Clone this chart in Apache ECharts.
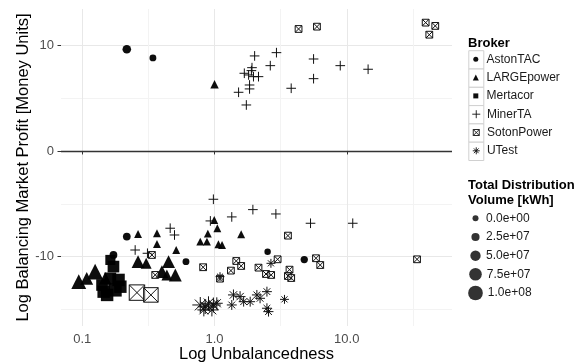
<!DOCTYPE html>
<html><head><meta charset="utf-8">
<script src="https://cdn.jsdelivr.net/npm/echarts@6/dist/echarts.min.js"></script>
<style>html,body{margin:0;padding:0;background:#fff}#c{width:585px;height:364px}</style>
</head><body><div id="c"></div>
<script>
// ---- axis ticks ----
const xTicks = [0.1, 1, 10];
const xMinor = [0.316, 3.16, 31.6];
const yTicks = [-10, 0, 10];
const yMinor = [-15, -5, 5];

// ---- brokers ----
const brokers = ['AstonTAC', 'LARGEpower', 'Mertacor', 'MinerTA', 'SotonPower', 'UTest'];

// unbalancedness, log profit, total distribution volume (kWh)
const astonX = [0.217, 0.342, 0.217, 0.172, 0.608, 2.52, 4.77];
const astonY = [9.62, 8.80, -8.1, -9.84, -10.47, -9.53, -10.28];
const astonV = [3e7, 1e7, 2e7, 2e7, 1e7, 5e6, 1.5e7];

const largeX = [1.0, 0.995, 1.05, 0.89, 0.78, 0.876, 1.07, 1.14, 1.59, 0.264, 0.367, 0.367, 0.513, 0.264, 0.304, 0.449, 0.40, 0.436, 0.505, 0.094, 0.108, 0.125, 0.149];
const largeY = [6.31, -6.53, -7.31, -7.82, -8.58, -8.58, -8.83, -8.89, -7.88, -7.85, -7.79, -8.80, -9.37, -10.47, -10.63, -10.47, -11.42, -11.73, -11.73, -12.36, -12.05, -11.42, -12.05];
const largeV = [1.5e7, 1e7, 1e7, 1e7, 1e7, 1e7, 1e7, 1e7, 1e7, 1e7, 1e7, 1e7, 1e7, 6e7, 4e7, 6e7, 6e7, 4e7, 6e7, 8e7, 6e7, 9e7, 6e7];

const mertX = [0.163, 0.172, 0.163, 0.145, 0.177, 0.194, 0.188, 0.141, 0.154];
const mertY = [-10.31, -10.94, -12.05, -13.31, -13.15, -12.84, -12.2, -12.68, -13.62];
const mertV = [6e7, 8e7, 8e7, 9e7, 1e8, 9e7, 9e7, 8e7, 9e7];

const minerX = [2.01, 2.94, 2.64, 1.92, 1.68, 1.81, 1.97, 2.15, 1.84, 1.84, 1.52, 1.74, 3.80, 5.61, 5.61, 8.93, 14.5, 1.9,
                0.98, 1.95, 2.91, 1.35, 5.32, 0.93, 11.1, 0.462, 0.498, 0.251, 0.311];
const minerY = [8.99, 9.30, 8.07, 7.88, 7.35, 7.19, 7.03, 7.03, 6.24, 5.87, 5.55, 4.35, 5.93, 8.70, 6.84, 8.07, 7.73, 7.6,
                -4.57, -5.55, -5.96, -6.24, -6.84, -6.62, -6.84, -7.31, -7.95, -9.37, -9.68];
const minerV = [5e6, 5e6, 5e6, 5e6, 5e6, 5e6, 5e6, 5e6, 5e6, 5e6, 5e6, 5e6, 5e6, 5e6, 5e6, 5e6, 5e6, 5e6,
                5e6, 5e6, 5e6, 5e6, 5e6, 5e6, 5e6, 5e6, 5e6, 5e6, 5e6];

const sotonX = [4.32, 5.95, 39.5, 46.7, 42.1, 3.59, 1.46, 1.59, 1.33, 0.82, 1.10, 2.15, 3.0, 2.45, 2.68, 3.69, 3.59, 3.80, 5.85, 6.30, 34.0, 0.336, 0.356, 0.259, 0.330];
const sotonY = [11.54, 11.76, 12.14, 11.83, 11.0, -8.01, -10.41, -10.88, -11.32, -11.0, -12.08, -11.04, -10.25, -11.64, -11.73, -11.23, -11.83, -12.02, -10.15, -10.79, -10.25, -9.84, -11.73, -13.4, -13.62];
const sotonV = [5e6, 5e6, 5e6, 5e6, 5e6, 5e6, 5e6, 5e6, 5e6, 5e6, 5e6, 5e6, 5e6, 5e6, 5e6, 5e6, 5e6, 5e6, 5e6, 5e6, 5e6, 5e6, 5e6, 1e8, 9e7];

const utestX = [0.78, 0.85, 0.90, 0.98, 0.955, 1.04, 0.83, 1.39, 1.56, 1.35, 1.66, 1.86, 2.09, 2.21, 2.49, 2.49, 2.56, 3.38, 2.67, 1.10];
const utestY = [-14.57, -14.73, -14.41, -14.57, -15.04, -14.41, -15.04, -13.62, -13.78, -14.57, -14.26, -14.26, -13.62, -13.94, -13.31, -14.88, -15.2, -14.04, -10.63, -11.89];
const utestV = [9e7, 8e7, 7e7, 8e7, 6e7, 5e7, 6e7, 4e7, 4e7, 3e7, 3e7, 3e7, 3e7, 3e7, 3e7, 3e7, 3e7, 2e7, 2e7, 2e7];

// size legend
const sizeBreaks = [0, 2.5e7, 5e7, 7.5e7, 1e8];
const sizeLabels = ['0.0e+00', '2.5e+07', '5.0e+07', '7.5e+07', '1.0e+08'];

// ---- build ----
const FONT = 'Liberation Sans, Arial, Helvetica, sans-serif';
function diam(v) { return 6 + 8.7 * v / 1e8; }
const shapes = {
  AstonTAC: {symbol: 'circle', f: 1.0, fill: '#000', stroke: null},
  LARGEpower: {symbol: 'triangle', f: 1.15, fill: '#000', stroke: null},
  Mertacor: {symbol: 'rect', f: 0.9, fill: '#000', stroke: null},
  MinerTA: {symbol: 'path://M5,0L5,10M0,5L10,5', f: 1.5, fill: 'rgba(0,0,0,0)', stroke: '#111'},
  SotonPower: {symbol: 'path://M0,0L10,0L10,10L0,10ZM0,0L10,10M10,0L0,10', f: 1.05, fill: 'rgba(255,255,255,0.3)', stroke: '#111'},
  UTest: {symbol: 'path://M5,0L5,10M0,5L10,5M1.6,1.6L8.4,8.4M8.4,1.6L1.6,8.4', f: 1.15, fill: 'rgba(0,0,0,0)', stroke: '#111'}
};
const legendIcon = {
  AstonTAC: {w: 5}, LARGEpower: {w: 6}, Mertacor: {w: 5}, MinerTA: {w: 8}, SotonPower: {w: 6}, UTest: {w: 7}
};
const dataSets = {
  AstonTAC: [astonX, astonY, astonV],
  LARGEpower: [largeX, largeY, largeV],
  Mertacor: [mertX, mertY, mertV],
  MinerTA: [minerX, minerY, minerV],
  SotonPower: [sotonX, sotonY, sotonV],
  UTest: [utestX, utestY, utestV]
};

const series = brokers.map((b, bi) => {
  const [xs, ys, vs] = dataSets[b];
  const sh = shapes[b];
  const s = {
    type: 'scatter', name: b, xAxisIndex: 0, yAxisIndex: 0,
    data: xs.map((x, i) => [x, ys[i], vs[i]]),
    symbol: sh.symbol,
    symbolSize: (val) => diam(val[2]) * sh.f,
    itemStyle: sh.stroke ? {color: sh.fill, borderColor: sh.stroke, borderWidth: 1, opacity: 1}
                         : {color: sh.fill, opacity: 0.95},
    emphasis: {disabled: true},
    z: 3
  };
  if (bi === 0) {
    s.markLine = {
      silent: true, symbol: 'none', label: {show: false},
      lineStyle: {color: '#333', width: 1.3, type: 'solid'},
      data: [{yAxis: 0}]
    };
  }
  return s;
});
sizeLabels.forEach((lab) => {
  series.push({type: 'scatter', name: lab, data: [], symbol: 'circle', itemStyle: {color: '#000'}});
});

const TXT = {fontSize: 12, color: '#1a1a1a', lineHeight: 18.3, fontFamily: FONT};
const legends = [];
// one legend per broker key so every icon can sit centred in its key box
brokers.forEach((b, i) => {
  const w = legendIcon[b].w;
  const cy = 59.3 + 18.3 * i;
  legends.push({
    data: [{name: b, itemStyle: shapes[b].stroke ? {borderWidth: 0.9} : {}}],
    orient: 'vertical', left: 475.8 - w / 2, top: cy - 9.15, padding: 0,
    itemWidth: w, itemHeight: w,
    textStyle: Object.assign({}, TXT, {padding: [0, 0, 0, 10.2 - w / 2 - 5 + 0.5]}),
    selectedMode: false
  });
});
const sizeCenters = [218.3, 237, 255.7, 274.3, 293];
sizeBreaks.forEach((v, i) => {
  const d = diam(v);
  legends.push({
    data: [sizeLabels[i]], orient: 'vertical', left: 475.5 - d / 2, top: sizeCenters[i] - 9.15, padding: 0,
    itemWidth: d, itemHeight: d, icon: 'circle',
    textStyle: Object.assign({}, TXT, {padding: [0, 0, 0, Math.max(0, 5.5 - d / 2)]}),
    selectedMode: false
  });
});

const boxes = brokers.map((b, i) => ({
  type: 'rect', left: 468.3, top: 50.2 + 18.3 * i,
  shape: {width: 15, height: 18.3},
  style: {fill: '#fff', stroke: '#d0d0d0', lineWidth: 1},
  z: 0, silent: true
}));

const option = {
  animation: false,
  backgroundColor: '#fff',
  textStyle: {fontFamily: FONT},
  title: [
    {text: 'Broker', left: 468, top: 35, padding: 0,
     textStyle: {fontSize: 13, fontWeight: 'bold', color: '#000', lineHeight: 16, fontFamily: FONT}},
    {text: 'Total Distribution\nVolume [kWh]', left: 468, top: 177.5, padding: 0,
     textStyle: {fontSize: 13, fontWeight: 'bold', color: '#000', lineHeight: 15, fontFamily: FONT}}
  ],
  legend: legends,
  graphic: boxes,
  grid: {left: 61, right: 133, top: 9, bottom: 38, containLabel: false, outerBoundsMode: 'none'},
  xAxis: [{
    type: 'log', logBase: 10, min: 0.069, max: 62.5,
    axisLine: {show: false},
    axisTick: {show: true, customValues: xTicks, length: 3.5, lineStyle: {color: '#333'}},
    axisLabel: {customValues: xTicks, formatter: (v) => Number(v).toFixed(1), fontSize: 13, color: '#4d4d4d', margin: 7, fontFamily: FONT},
    splitLine: {show: true, lineStyle: {color: '#e8e8e8', width: 1}},
    minorTick: {show: false}, minorSplitLine: {show: false},
    name: 'Log Unbalancedness', nameLocation: 'middle', nameGap: 19.5, nameMoveOverlap: false,
    nameTextStyle: {fontSize: 16.5, color: '#000', fontFamily: FONT}
  }, {
    type: 'log', logBase: 10, min: 0.069, max: 62.5, gridIndex: 0, position: 'bottom',
    axisLine: {show: false},
    axisTick: {show: false, customValues: xMinor},
    axisLabel: {show: false, customValues: xMinor},
    splitLine: {show: true, lineStyle: {color: '#f3f3f3', width: 1}}
  }],
  yAxis: [{
    type: 'value', min: -16.56, max: 13.43,
    axisLine: {show: false},
    axisTick: {show: true, customValues: yTicks, length: 3.5, lineStyle: {color: '#333'}},
    axisLabel: {customValues: yTicks, fontSize: 13, color: '#4d4d4d', margin: 7, fontFamily: FONT},
    splitLine: {show: true, lineStyle: {color: '#e8e8e8', width: 1}},
    name: 'Log Balancing Market Profit [Money Units]', nameLocation: 'middle', nameGap: 29, nameMoveOverlap: false,
    nameTextStyle: {fontSize: 16.5, color: '#000', fontFamily: FONT}
  }, {
    type: 'value', min: -16.56, max: 13.43, gridIndex: 0, position: 'left',
    axisLine: {show: false},
    axisTick: {show: false, customValues: yMinor},
    axisLabel: {show: false, customValues: yMinor},
    splitLine: {show: true, lineStyle: {color: '#f3f3f3', width: 1}}
  }],
  series: series
};

const chart = echarts.init(document.getElementById('c'), null, {renderer: 'canvas'});
chart.setOption(option);
</script>
</body></html>
